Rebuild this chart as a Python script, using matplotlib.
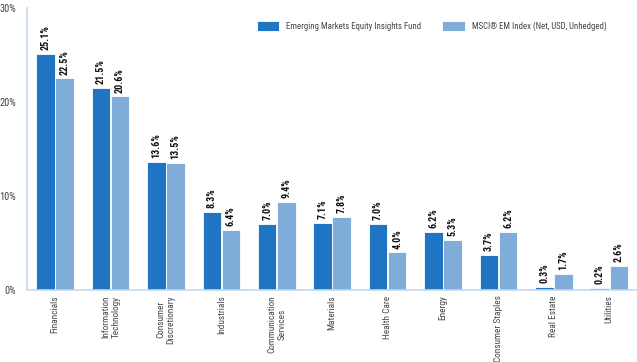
import matplotlib
matplotlib.use("Agg")
import matplotlib.pyplot as plt
import numpy as np
from matplotlib import font_manager
from matplotlib.font_manager import FontProperties

files = {f.fname.split('/')[-1].lower(): f.fname for f in font_manager.fontManager.ttflist}


def find(cands):
    for c in cands:
        if c.lower() in files:
            return files[c.lower()]
    return None


reg_f = find(["RobotoCondensed-Regular.ttf", "NotoSans-Condensed.ttf", "LiberationSansNarrow-Regular.ttf",
              "DejaVuSansCondensed.ttf", "OpenSans_Condensed-Regular.ttf"])
bold_f = find(["RobotoCondensed-Bold.ttf", "NotoSans-CondensedBold.ttf", "LiberationSansNarrow-Bold.ttf",
               "DejaVuSansCondensed-Bold.ttf", "OpenSans_Condensed-Bold.ttf"])


def fp(size, bold=False):
    f = bold_f if bold else reg_f
    if f:
        return FontProperties(fname=f, size=size)
    return FontProperties(family="Roboto", size=size - 1, weight="bold" if bold else "normal")


categories = ["Financials", "Information\nTechnology", "Consumer\nDiscretionary", "Industrials",
              "Communication\nServices", "Materials", "Health Care", "Energy",
              "Consumer Staples", "Real Estate", "Utilities"]
fund = [25.1, 21.5, 13.6, 8.3, 7.0, 7.1, 7.0, 6.2, 3.7, 0.3, 0.2]
index = [22.5, 20.6, 13.5, 6.4, 9.4, 7.8, 4.0, 5.3, 6.2, 1.7, 2.6]
series_names = ["Emerging Markets Equity Insights Fund", "MSCI® EM Index (Net, USD, Unhedged)"]
yticks = [0, 10, 20, 30]

dark = "#1f74c4"
light = "#80acda"
axis_col = "#c3d8ee"
text_col = "#444444"

fig = plt.figure(figsize=(6.37, 3.62), dpi=100)
ax = fig.add_axes([0.043, 0.199, 0.957, 0.779])

x = np.arange(len(categories))
w = 0.335
b1 = ax.bar(x - w / 2 - 0.005, fund, w, color=dark, edgecolor="white", linewidth=0.6, label=series_names[0])
b2 = ax.bar(x + w / 2 + 0.005, index, w, color=light, edgecolor="white", linewidth=0.6, label=series_names[1])

for bars, vals in ((b1, fund), (b2, index)):
    for r, v in zip(bars, vals):
        ax.text(r.get_x() + r.get_width() / 2, v + 0.4, f"{v:.1f}%", rotation=90,
                ha="center", va="bottom", fontproperties=fp(7.2, True), color="#111111")

ax.set_xlim(-0.5, len(categories) - 0.5)
ax.set_ylim(0, 30)
ax.set_yticks(yticks)
ax.set_yticklabels([f"{t}%" for t in yticks], color=text_col)
ax.set_xticks(x)
ax.set_xticklabels(categories, rotation=90, color=text_col, ha="center", va="top",
                   multialignment="center")
for lab in ax.get_xticklabels():
    lab.set_fontproperties(fp(6.7))
for lab in ax.get_yticklabels():
    lab.set_fontproperties(fp(7.5))
ax.tick_params(axis="x", length=0, pad=4)
ax.tick_params(axis="y", length=0, pad=8)
for s in ("top", "right"):
    ax.spines[s].set_visible(False)
for s in ("left", "bottom"):
    ax.spines[s].set_color(axis_col)
    ax.spines[s].set_linewidth(1.2)

leg = ax.legend(loc="upper left", bbox_to_anchor=(257 / 637, 1 - 21 / 362), bbox_transform=fig.transFigure,
                ncol=2, frameon=False, borderpad=0, borderaxespad=0,
                prop=fp(6.3), handlelength=2.55, handleheight=1.3, columnspacing=2.4,
                handletextpad=0.8)
for t in leg.get_texts():
    t.set_color(text_col)

fig.savefig("out.png", dpi=100)
